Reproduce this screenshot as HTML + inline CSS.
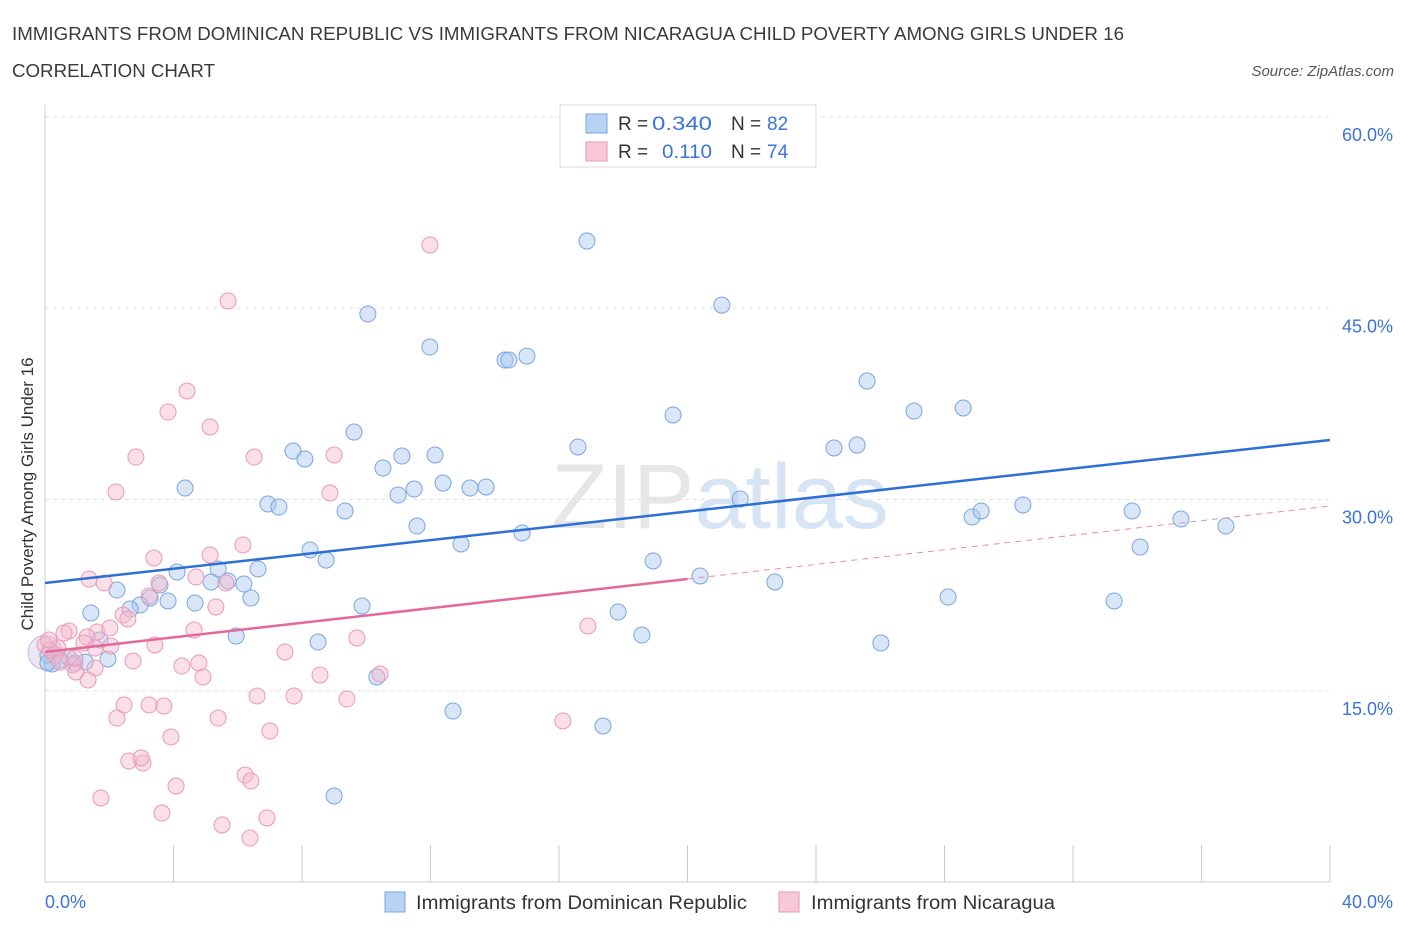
<!DOCTYPE html>
<html><head><meta charset="utf-8"><style>
body{margin:0;background:#fff;font-family:"Liberation Sans",sans-serif;}
svg text{font-family:"Liberation Sans",sans-serif;}
</style></head><body>
<svg id="chart" width="1406" height="930" xmlns="http://www.w3.org/2000/svg">
<text x="12" y="40" font-size="18" fill="#3a3a3a" textLength="1112" lengthAdjust="spacingAndGlyphs">IMMIGRANTS FROM DOMINICAN REPUBLIC VS IMMIGRANTS FROM NICARAGUA CHILD POVERTY AMONG GIRLS UNDER 16</text>
<text x="12" y="77" font-size="18" fill="#3a3a3a" textLength="203" lengthAdjust="spacingAndGlyphs">CORRELATION CHART</text>
<text x="1394" y="76" font-size="15" fill="#555" text-anchor="end" font-style="italic">Source: ZipAtlas.com</text>
<text x="720" y="528" font-size="92" fill="#e6e6e6" text-anchor="middle" font-family="Liberation Serif">ZIP<tspan fill="#d6e4f4" font-family="Liberation Sans">atlas</tspan></text>
<g id="grid"></g>
<g id="axes"></g>
<g id="marks"></g>
<text transform="translate(33,494) rotate(-90)" font-size="17" fill="#333" text-anchor="middle">Child Poverty Among Girls Under 16</text>
<g>
<rect x="560" y="105" width="256" height="62" fill="#fff" stroke="#ddd"/>
<rect x="586" y="114" width="21" height="19" fill="#b8d2f4" stroke="#7aa6e0"/>
<text x="618" y="130" font-size="19" fill="#333">R =</text>
<text x="652" y="130" font-size="19" fill="#3b73d9" textLength="60" lengthAdjust="spacingAndGlyphs">0.340</text>
<text x="731" y="130" font-size="19" fill="#333">N =</text>
<text x="767" y="130" font-size="19" fill="#3b73d9">82</text>
<rect x="586" y="142" width="21" height="19" fill="#f9c8d8" stroke="#e79ab5"/>
<text x="618" y="158" font-size="19" fill="#333">R =</text>
<text x="662" y="158" font-size="19" fill="#3b73d9" textLength="50" lengthAdjust="spacingAndGlyphs">0.110</text>
<text x="731" y="158" font-size="19" fill="#333">N =</text>
<text x="767" y="158" font-size="19" fill="#3b73d9">74</text>
</g>
<g>
<rect x="385" y="892" width="20" height="20" fill="#b8d2f4" stroke="#7aa6e0"/>
<text x="416" y="909" font-size="19" fill="#333" textLength="331" lengthAdjust="spacingAndGlyphs">Immigrants from Dominican Republic</text>
<rect x="779" y="892" width="20" height="20" fill="#f9c8d8" stroke="#e79ab5"/>
<text x="811" y="909" font-size="19" fill="#333" textLength="244" lengthAdjust="spacingAndGlyphs">Immigrants from Nicaragua</text>
</g>
</svg>
<script>
const xTicks=[0,5,10,15,20,25,30,35,40];
const yTicks=[15,30,45,60];
const blueX=[16.87,21.07,10.05,11.98,14.32,14.44,15.00,25.59,19.55,27.05,28.58,9.62,16.59,24.56,25.28,7.72,8.09,11.11,12.14,10.52,12.39,11.49,13.23,13.73,10.99,4.36,21.64,6.94,7.28,9.34,11.58,14.85,12.95,28.86,29.14,30.44,33.84,35.36,36.76,34.09,8.25,8.75,18.93,20.39,22.72,4.11,6.63,5.39,5.17,5.70,6.19,3.58,2.24,3.27,2.96,2.65,3.83,4.67,6.41,28.11,33.28,9.87,17.84,1.43,18.58,5.95,8.50,26.02,1.71,1.96,0.47,0.22,0.93,10.33,12.70,17.37,9.00,0.09,0.31,0.09,1.25,0.72];
const blueY=[50.27,45.25,44.55,41.96,40.94,40.94,41.25,39.29,36.63,36.94,37.18,35.29,34.12,34.04,34.27,33.80,33.18,33.41,33.49,32.47,31.29,30.82,30.90,30.98,30.35,30.90,30.04,29.65,29.41,29.10,27.92,27.37,26.51,28.63,29.10,29.57,29.10,28.47,27.92,26.27,26.04,25.25,25.18,24.00,23.53,24.31,24.55,24.55,23.53,23.61,23.37,23.29,22.90,22.27,21.73,21.41,22.04,21.88,22.27,22.35,22.04,21.65,21.18,21.10,19.37,19.29,18.82,18.75,18.98,17.49,17.41,17.10,17.18,16.08,13.41,12.24,6.75,17.80,17.80,17.18,17.25,17.65];
const pinkX=[11.98,5.70,4.42,3.83,5.14,2.83,6.51,9.00,2.21,8.87,6.16,5.14,3.39,1.37,1.84,3.55,4.70,5.63,3.24,2.43,2.58,5.32,0.75,1.62,2.02,4.64,3.42,1.31,0.59,1.21,2.05,16.90,9.71,7.47,2.74,4.26,4.79,4.92,8.56,10.43,0.31,0.47,0.87,1.56,1.34,0.96,6.60,7.75,9.40,2.46,3.24,3.70,2.24,5.39,16.12,7.00,3.92,2.61,3.05,2.99,6.23,6.41,4.08,1.74,3.64,6.91,5.51,6.38,0,0.16,0.40,1.56,0.93,0.12];
const pinkY=[49.96,45.57,38.51,36.86,35.69,33.33,33.33,33.49,30.59,30.51,26.43,25.65,25.41,23.76,23.45,23.45,23.92,23.45,22.43,20.94,20.63,21.57,19.69,19.61,19.92,19.76,18.59,19.22,19.53,18.75,18.51,20.08,19.14,18.04,17.33,16.94,17.18,16.08,16.24,16.31,17.80,17.25,17.02,16.78,15.84,16.47,14.59,14.59,14.35,13.88,13.88,13.80,12.86,12.86,12.63,11.84,11.37,9.49,9.33,9.73,8.39,7.92,7.53,6.59,5.41,5.02,4.47,3.45,18.59,18.20,18.35,18.35,17.57,18.98];
const blueTrend=[23.45,34.67];
const pinkTrend=[18.04,29.49];
const pinkSolidEnd=20;
const NS='http://www.w3.org/2000/svg';
const X=v=>45+v*32.125;
const Y=v=>882-v*12.75;
function mk(tag,attrs,parent){const e=document.createElementNS(NS,tag);for(const k in attrs)e.setAttribute(k,attrs[k]);document.getElementById(parent).appendChild(e);return e;}
yTicks.forEach(t=>{
 const l=mk('line',{x1:45,x2:1330,y1:Y(t),y2:Y(t),stroke:'#e2e2e2','stroke-dasharray':'4,4'},'grid');
 
 
 const tx=mk('text',{x:1393,y:Y(t)+24,'font-size':18,fill:'#3b73d9','text-anchor':'end'},'grid');
 tx.textContent=t.toFixed(1)+'%';
 
 
});
const ax=mk('line',{x1:45,x2:45,y1:105,y2:882,stroke:'#ccc'},'axes');


const xa=mk('line',{x1:45,x2:1330,y1:882,y2:882,stroke:'#ccc'},'axes');


for(let i=0;i<=10;i++){
 const v=i*4;
 const tk=mk('line',{x1:X(v),x2:X(v),y1:845,y2:882,stroke:'#ccc'},'axes');
 
 
}
[[0,'start',45],[40,'end',1393]].forEach(([v,a,x])=>{
 const t=mk('text',{x:x,y:908,'font-size':18,fill:'#3b73d9','text-anchor':a},'axes');
 t.textContent=v.toFixed(1)+'%';
 
 
});
const big=mk('circle',{cx:X(0),cy:Y(18),r:17,fill:'rgba(200,190,220,0.35)',stroke:'#c8b8d8'},'marks');


blueX.forEach((x,i)=>{
 const c=mk('circle',{cx:X(x),cy:Y(blueY[i]),r:8,fill:'rgba(168,200,240,0.45)',stroke:'#7aa6e0','stroke-width':1},'marks');
 
 
});
pinkX.forEach((x,i)=>{
 const c=mk('circle',{cx:X(x),cy:Y(pinkY[i]),r:8,fill:'rgba(245,184,204,0.45)',stroke:'#e99ab6','stroke-width':1},'marks');
 
 
});
const bl=mk('line',{x1:X(0),y1:Y(blueTrend[0]),x2:X(40),y2:Y(blueTrend[1]),stroke:'#2e6fd6','stroke-width':2.5},'marks');


const ps=pinkTrend[0]+(pinkTrend[1]-pinkTrend[0])*pinkSolidEnd/40;
const pl=mk('line',{x1:X(0),y1:Y(pinkTrend[0]),x2:X(pinkSolidEnd),y2:Y(ps),stroke:'#e4689a','stroke-width':2.5},'marks');


const pd=mk('line',{x1:X(pinkSolidEnd),y1:Y(ps),x2:X(40),y2:Y(pinkTrend[1]),stroke:'#e88aaf','stroke-width':1,'stroke-dasharray':'6,5'},'marks');


</script>
</body></html>
